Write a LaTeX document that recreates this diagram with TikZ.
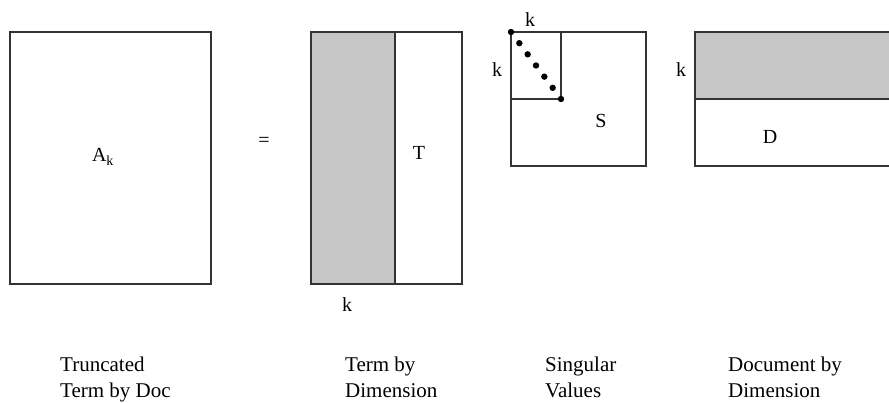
\documentclass[tikz,border=0pt]{standalone}
\usepackage{fontspec}
\setmainfont{Liberation Serif}
\begin{document}
\begin{tikzpicture}[x=1pt,y=-1pt,
  box/.style={draw=black!80,line width=1.3pt},
  greyfill/.style={fill=gray!45},
  lbl/.style={inner sep=0pt,anchor=base,font=\fontsize{20}{24}\selectfont},
  captxt/.style={inner sep=0pt,anchor=base west,font=\fontsize{21}{26}\selectfont}]
\useasboundingbox (0,0) rectangle (889,403);
\clip (0,0) rectangle (889,403);
\fill[white] (0,0) rectangle (889,403);
% A_k
\draw[box] (10,32) rectangle (211,284);
\node[lbl] (ak) at (103,162) {A\textsubscript{k}};
% equals
\node[lbl] (eq) at (264,147) {=};
% T
\fill[greyfill] (311,32) rectangle (395,284);
\draw[box] (311,32) rectangle (462,284);
\draw[box] (395,32) -- (395,284);
\node[lbl] (tl) at (419,160) {T};
\node[lbl] (tk) at (347,312) {k};
% S
\draw[box] (511,32) rectangle (646,166);
\draw[box] (561,32) -- (561,99) -- (511,99);
\foreach \i in {0,...,6} \fill ({511+50*\i/6},{32+67*\i/6}) circle (3.2pt);
\node[lbl] (sl) at (601,128) {S};
\node[lbl] (sk1) at (530,27) {k};
\node[lbl] (sk2) at (497,77) {k};
% D
\fill[greyfill] (695,32) rectangle (900,99);
\draw[box] (900,32) -- (695,32) -- (695,166) -- (900,166);
\draw[box] (695,99) -- (900,99);
\node[lbl] (dl) at (770,144) {D};
\node[lbl] (dk) at (681,77) {k};
% captions
\node[captxt] (c1a) at (60,371) {Truncated};
\node[captxt] (c1b) at (60,397) {Term by Doc};
\node[captxt] (c2a) at (345,371) {Term by};
\node[captxt] (c2b) at (345,397) {Dimension};
\node[captxt] (c3a) at (545,371) {Singular};
\node[captxt] (c3b) at (545,397) {Values};
\node[captxt] (c4a) at (728,371) {Document by};
\node[captxt] (c4b) at (728,397) {Dimension};
\end{tikzpicture}
\end{document}
